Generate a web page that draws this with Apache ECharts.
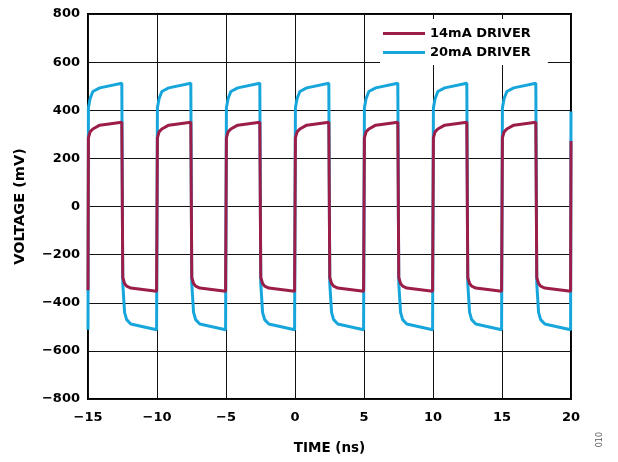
<!DOCTYPE html>
<html>
<head>
<meta charset="utf-8">
<script src="https://cdn.jsdelivr.net/npm/echarts@6/dist/echarts.min.js"></script>
<style>
	html, body { margin: 0; padding: 0; background: #fff; }
	#chart { width: 618px; height: 462px; }
</style>
</head>
<body>
<div id="chart"></div>
<script type="text/javascript">
	// time points (ns)
	var times = [
		-15, -14.97, -14.85, -14.65, -14.15, -12.55, -12.48, -12.35, -12.2, -11.9, -10.03,
		-9.97, -9.85, -9.65, -9.15, -7.55, -7.48, -7.35, -7.2, -6.9, -5.03,
		-4.97, -4.85, -4.65, -4.15, -2.55, -2.48, -2.35, -2.2, -1.9, -0.03,
		0.03, 0.15, 0.35, 0.85, 2.45, 2.52, 2.65, 2.8, 3.1, 4.97,
		5.03, 5.15, 5.35, 5.85, 7.45, 7.52, 7.65, 7.8, 8.1, 9.97,
		10.03, 10.15, 10.35, 10.85, 12.45, 12.52, 12.65, 12.8, 13.1, 14.97,
		15.03, 15.15, 15.35, 15.85, 17.45, 17.52, 17.65, 17.8, 18.1, 19.97,
		20
	];
	// 14mA driver (mV)
	var driver14 = [
		-348, 285, 310, 322, 338, 350, -295, -320, -331, -339, -352,
		285, 310, 322, 338, 350, -295, -320, -331, -339, -352,
		285, 310, 322, 338, 350, -295, -320, -331, -339, -352,
		285, 310, 322, 338, 350, -295, -320, -331, -339, -352,
		285, 310, 322, 338, 350, -295, -320, -331, -339, -352,
		285, 310, 322, 338, 350, -295, -320, -331, -339, -352,
		285, 310, 322, 338, 350, -295, -320, -331, -339, -352,
		272
	];
	// 20mA driver (mV)
	var driver20 = [
		-512, 410, 448, 478, 493, 512, -320, -440, -470, -488, -512,
		410, 448, 478, 493, 512, -320, -440, -470, -488, -512,
		410, 448, 478, 493, 512, -320, -440, -470, -488, -512,
		410, 448, 478, 493, 512, -320, -440, -470, -488, -512,
		410, 448, 478, 493, 512, -320, -440, -470, -488, -512,
		410, 448, 478, 493, 512, -320, -440, -470, -488, -512,
		410, 448, 478, 493, 512, -320, -440, -470, -488, -512,
		395
	];

	var font = 'DejaVu Sans';
	function minus(v) { return String(v).replace('-', '\u2212'); }
	function pairs(vals) { return times.map(function (t, i) { return [t, vals[i]]; }); }

	var myChart = echarts.init(document.getElementById('chart'), null, {renderer: 'canvas'});
	var option = {
		animation: false,
		backgroundColor: '#fff',
		grid: {
			left: 88, right: 47, top: 14, bottom: 63,
			containLabel: false,
			outerBoundsMode: 'none',
			show: true, borderColor: '#000', borderWidth: 2
		},
		legend: {
			orient: 'vertical',
			left: 380, top: 19,
			backgroundColor: '#fff',
			padding: [8, 17, 6, 3],
			itemWidth: 42, itemHeight: 3, itemGap: 6,
			icon: 'rect',
			textStyle: {fontFamily: font, fontWeight: 'bold', fontSize: 13, color: '#000'},
			data: ['14mA DRIVER', '20mA DRIVER']
		},
		xAxis: {
			type: 'value',
			min: -15, max: 20, interval: 5,
			name: 'TIME (ns)',
			nameLocation: 'middle',
			nameGap: 42,
			nameTextStyle: {fontFamily: font, fontWeight: 'bold', fontSize: 13.5, color: '#000'},
			axisLine: {show: false},
			axisTick: {show: false},
			axisLabel: {margin: 12, fontFamily: font, fontWeight: 'bold', fontSize: 13, color: '#000', formatter: minus},
			splitLine: {lineStyle: {color: '#111', width: 1}}
		},
		yAxis: {
			type: 'value',
			min: -800, max: 800, interval: 200,
			name: 'VOLTAGE (mV)',
			nameLocation: 'middle',
			nameGap: 60,
			nameTextStyle: {fontFamily: font, fontWeight: 'bold', fontSize: 14.5, color: '#000'},
			axisLine: {show: false},
			axisTick: {show: false},
			axisLabel: {margin: 8, fontFamily: font, fontWeight: 'bold', fontSize: 13, color: '#000', formatter: minus},
			splitLine: {lineStyle: {color: '#111', width: 1}}
		},
		graphic: [{
			type: 'text',
			left: 596, top: 432,
			rotation: Math.PI / 2,
			style: {text: '010', fontFamily: font, fontSize: 8, fill: '#555'}
		}],
		series: [
			{
				name: '20mA DRIVER',
				type: 'line',
				showSymbol: false,
				color: '#17a6db',
				lineStyle: {width: 3, color: '#17a6db'},
				data: pairs(driver20)
			},
			{
				name: '14mA DRIVER',
				type: 'line',
				showSymbol: false,
				color: '#9b1d48',
				lineStyle: {width: 3, color: '#9b1d48'},
				data: pairs(driver14)
			}
		]
	};
	myChart.setOption(option);
</script>
</body>
</html>
